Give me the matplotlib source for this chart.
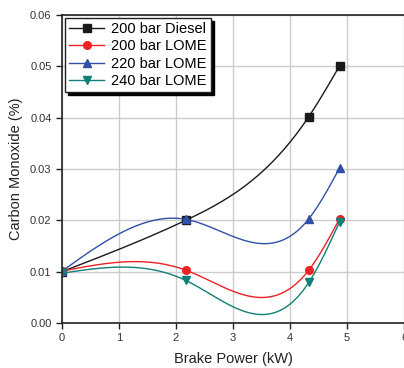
"""
Carbon monoxide vs brake power for diesel and LOME at different injection pressures.
"""

import numpy as np
import matplotlib.pyplot as plt

plt.rcParams['font.family'] = ['Liberation Sans', 'DejaVu Sans']

# data
power = [0.0, 2.17, 4.33, 4.87]
co_diesel_200 = [0.0100, 0.0200, 0.0402, 0.0501]
co_lome_200 = [0.0101, 0.0103, 0.0103, 0.0203]
co_lome_220 = [0.0101, 0.0202, 0.0203, 0.0302]
co_lome_240 = [0.0097, 0.0083, 0.0079, 0.0197]

labels = ['200 bar Diesel', '200 bar LOME', '220 bar LOME', '240 bar LOME']
colors = ['#1a1a1a', '#ee2222', '#3050a8', '#108078']
markers = ['s', 'o', '^', 'v']


def natural_spline(x, y, n=200):
    """Natural cubic spline through the points, used only to draw the smooth line."""
    x = np.asarray(x, float)
    y = np.asarray(y, float)
    k = len(x)
    h = np.diff(x)
    A = np.zeros((k, k))
    b = np.zeros(k)
    A[0, 0] = A[-1, -1] = 1
    for i in range(1, k - 1):
        A[i, i - 1] = h[i - 1]
        A[i, i] = 2 * (h[i - 1] + h[i])
        A[i, i + 1] = h[i]
        b[i] = 6 * ((y[i + 1] - y[i]) / h[i] - (y[i] - y[i - 1]) / h[i - 1])
    m = np.linalg.solve(A, b)
    xs = np.linspace(x[0], x[-1], n)
    idx = np.clip(np.searchsorted(x, xs) - 1, 0, k - 2)
    x0, x1 = x[idx], x[idx + 1]
    hh = x1 - x0
    t0, t1 = x1 - xs, xs - x0
    ys = (m[idx] * t0 ** 3 / (6 * hh) + m[idx + 1] * t1 ** 3 / (6 * hh)
          + (y[idx] / hh - m[idx] * hh / 6) * t0
          + (y[idx + 1] / hh - m[idx + 1] * hh / 6) * t1)
    return xs, ys


fig = plt.figure(figsize=(4.04, 3.68), dpi=100)
ax = fig.add_axes([62 / 404, 45 / 368, 342 / 404, 308 / 368])

for ys, lab, c, mk in zip([co_diesel_200, co_lome_200, co_lome_220, co_lome_240],
                          labels, colors, markers):
    sx, sy = natural_spline(power, ys)
    ax.plot(sx, sy, color=c, lw=1.0)
    ax.plot(power, ys, ls='none', marker=mk, color=c, ms=5.5)
    # proxy artist for the legend
    ax.plot([], [], color=c, lw=1.0, marker=mk, ms=5.5, label=lab)

ax.set_xlim(0, 6)
ax.set_ylim(0, 0.06)
ax.set_xticks(range(0, 7))
ax.set_yticks(np.arange(0, 0.061, 0.01))
ax.yaxis.set_major_formatter(plt.FormatStrFormatter('%.2f'))
ax.grid(True, color='#cccccc', lw=1.0)
ax.set_axisbelow(True)
ax.spines['right'].set_visible(False)
for s in ['left', 'bottom', 'top']:
    ax.spines[s].set_linewidth(1.2)
    ax.spines[s].set_color('#222222')
ax.tick_params(direction='out', length=4, width=1.0, labelsize=8,
               colors='#222222', labelcolor='#333333')
ax.set_xlabel('Brake Power (kW)', fontsize=10.5, color='#222222', labelpad=6)
ax.set_ylabel('Carbon Monoxide (%)', fontsize=10.5, color='#222222', labelpad=5)

# only plot the real data handles in legend
handles, labs = ax.get_legend_handles_labels()
leg = ax.legend(handles, labs, loc='upper left', bbox_to_anchor=(0.0, 1.0),
                fontsize=10.5, frameon=True, fancybox=False, shadow={'color': 'black', 'alpha': 1},
                edgecolor='#222222', framealpha=1, borderpad=0.3, labelspacing=0.22,
                handlelength=2.4, handletextpad=0.45, borderaxespad=0.2)
leg.get_frame().set_linewidth(1.0)

fig.savefig('out.png', dpi=100)
